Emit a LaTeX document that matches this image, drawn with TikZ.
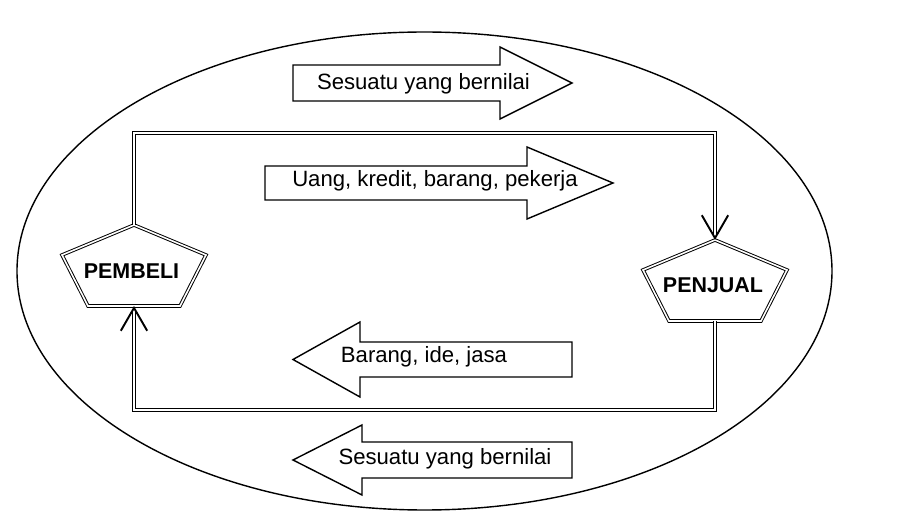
\documentclass[tikz,border=0pt]{standalone}
\usepackage{fontspec}
\setmainfont{Liberation Sans}
\usetikzlibrary{arrows.meta,calc}

\begin{document}
\begin{tikzpicture}[x=0.02cm,y=-0.02cm,
		lbl/.style={font=\fontsize{12.6}{15}\selectfont, inner sep=0pt, anchor=base},
		actor/.style={font=\bfseries\fontsize{12.2}{15}\selectfont, inner sep=0pt},
		bigarrow/.style={draw, line width=0.8pt, fill=white, line join=miter},
		dline/.style={draw, line width=0.55pt, double, double distance=0.9pt},
		tip/.style={-{Straight Barb[length=13pt,width=15pt,line width=1.1pt]}}]
	\useasboundingbox (0,0) rectangle (914,513);
	\draw[line width=0.8pt] (424.5,271) ellipse [x radius=407.5, y radius=239];
	
	% pembeli dan penjual
	\node[actor] (pembeli) at (131.5,271.5) {PEMBELI};
	\draw[dline] (134,225) coordinate (pb-top) -- (206,255) -- (180,306) -- (88,306) -- (62,255) -- cycle;
	\coordinate (pb-bot) at (134,306);
	
	\node[actor] (penjual) at (713,285) {PENJUAL};
	\draw[dline] (715,240) coordinate (pj-top) -- (787,270) -- (761,321) -- (669,321) -- (643,270) -- cycle;
	\coordinate (pj-bot) at (715,321);
	
	% aliran
	\draw[dline, tip] (pb-top) -- ++(0,-92) -| (pj-top);
	\draw[dline, tip] (pj-bot) -- ++(0,89) -| (pb-bot);
	
	% panah besar
	\draw[bigarrow] (293,65) -- (500,65) -- (500,47) -- (572,83) -- (500,119) -- (500,101) -- (293,101) -- cycle;
	\node[lbl] (nilai1) at (423.5,90) {Sesuatu yang bernilai};
	
	\draw[bigarrow] (265,166) -- (527,166) -- (527,147) -- (613,183) -- (527,219) -- (527,200) -- (265,200) -- cycle;
	\node[lbl] (uang) at (435,187) {Uang, kredit, barang, pekerja};
	
	\draw[bigarrow] (572,342) -- (360,342) -- (360,322) -- (293,359.5) -- (360,397) -- (360,377) -- (572,377) -- cycle;
	\node[lbl] (barang) at (424,363) {Barang, ide, jasa};
	
	\draw[bigarrow] (572,442) -- (362,442) -- (362,425) -- (293,460) -- (362,495) -- (362,478) -- (572,478) -- cycle;
	\node[lbl] (nilai2) at (445,465) {Sesuatu yang bernilai};
\end{tikzpicture}
\end{document}
